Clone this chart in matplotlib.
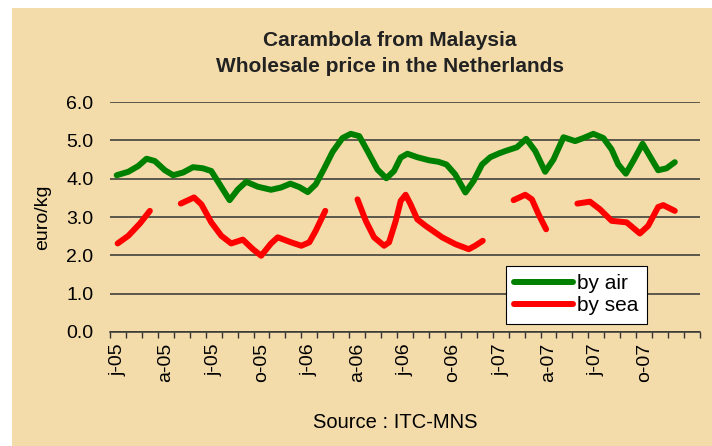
import matplotlib
matplotlib.use('Agg')
import matplotlib.pyplot as plt
import numpy as np
from matplotlib.patches import Rectangle

plt.rcParams['font.family'] = ['Liberation Sans', 'DejaVu Sans']

BG = '#F3DCAA'

# months since Jan 2005 and prices in euro/kg
air_month = [0.42, 1.15, 1.77, 2.29, 2.81, 3.44, 3.96, 4.58, 5.21, 5.83, 6.35, 6.88,
             7.5, 8.02, 8.54, 9.27, 10.1, 10.73, 11.31, 11.875, 12.4, 12.9, 13.44,
             13.96, 14.58, 15.1, 15.63, 16.15, 16.77, 17.33, 17.81, 18.23, 18.65,
             19.27, 20.0, 20.6, 21.1, 21.65, 22.29, 22.8, 23.33, 23.85, 24.4, 24.79,
             25.52, 26.1, 26.67, 27.29, 27.81, 28.44, 29.17, 29.69, 30.31, 30.94,
             31.46, 31.875, 32.35, 32.81, 33.4, 33.85, 34.375, 34.9, 35.42]
air_price = [4.09, 4.18, 4.33, 4.52, 4.46, 4.22, 4.09, 4.16, 4.30, 4.27, 4.20, 3.85,
             3.44, 3.72, 3.92, 3.79, 3.71, 3.77, 3.87, 3.78, 3.65, 3.85, 4.27,
             4.70, 5.06, 5.17, 5.11, 4.72, 4.24, 4.01, 4.20, 4.55, 4.65,
             4.56, 4.48, 4.44, 4.37, 4.11, 3.64, 3.94, 4.37, 4.56, 4.66, 4.72,
             4.82, 5.04, 4.72, 4.18, 4.50, 5.08, 4.98, 5.06, 5.17, 5.06,
             4.76, 4.37, 4.13, 4.46, 4.91, 4.59, 4.22, 4.27, 4.43]

# nan marks weeks without a sea price
sea_month = [0.48, 1.15, 1.875, 2.5, 3.5,
             4.44, 5.27, 5.73, 6.35, 6.98, 7.6, 8.33, 8.96, 9.48, 10.1, 10.52,
             11.35, 12.0, 12.5, 12.9, 13.5, 14.5,
             15.52, 16.04, 16.56, 17.19, 17.5, 17.92, 18.23, 18.54, 18.85, 19.27,
             19.79, 20.83, 21.67, 22.5, 22.9, 23.375, 24.3,
             25.31, 26.04, 26.46, 26.875, 27.35, 28.3,
             29.31, 30.1, 30.73, 31.46, 32.4, 33.23, 33.75, 34.375, 34.69, 35.42]
sea_price = [2.31, 2.51, 2.83, 3.16, np.nan,
             3.35, 3.51, 3.33, 2.86, 2.51, 2.31, 2.41, 2.16, 1.99, 2.31, 2.47,
             2.34, 2.25, 2.34, 2.64, 3.16, np.nan,
             3.46, 2.90, 2.47, 2.25, 2.34, 2.90, 3.42, 3.58, 3.33, 2.94,
             2.77, 2.47, 2.29, 2.16, 2.25, 2.38, np.nan,
             3.44, 3.58, 3.46, 3.07, 2.68, np.nan,
             3.35, 3.40, 3.20, 2.90, 2.86, 2.57, 2.77, 3.26, 3.31, 3.16]

quarter_labels = ['j-05', 'a-05', 'j-05', 'o-05', 'j-06', 'a-06',
                  'j-06', 'o-06', 'j-07', 'a-07', 'j-07', 'o-07']

fig = plt.figure(figsize=(7.12, 4.46), dpi=100, facecolor='white')
fig.patches.append(Rectangle((12 / 712, 0), 1, 1 - 8 / 446, transform=fig.transFigure,
                             facecolor=BG, edgecolor='none', zorder=-10))

ax = fig.add_axes([110 / 712, 1 - 332 / 446, 590 / 712, 230 / 446])
ax.set_facecolor(BG)

ax.plot(air_month, air_price, color='#008000', lw=4.3, solid_capstyle='round',
        solid_joinstyle='round', label='by air', zorder=3)
ax.plot(sea_month, sea_price, color='#FF0000', lw=4.3, solid_capstyle='round',
        solid_joinstyle='round', label='by sea', zorder=3)

ax.set_xlim(0, 37)
ax.set_ylim(0, 6)
ax.set_yticks(np.arange(0, 6.1, 1.0))
ax.set_yticklabels(['%.1f' % v for v in np.arange(0, 6.1, 1.0)], fontsize=14)
ax.tick_params(axis='y', length=0, pad=12)
ax.yaxis.grid(True, color='#333333', lw=1.1)
ax.set_axisbelow(True)

ax.set_xticks(np.arange(0, 38, 1))
ax.set_xticklabels([])
ax.tick_params(axis='x', which='major', direction='out', length=4, width=1, color='#333333')
ax.set_xticks(0.5 + 3 * np.arange(len(quarter_labels)), minor=True)
ax.set_xticklabels(quarter_labels, minor=True, rotation=90, fontsize=14)
ax.tick_params(axis='x', which='minor', length=0, pad=8)

for s in ['top', 'right', 'left']:
    ax.spines[s].set_visible(False)
ax.spines['bottom'].set_color('#333333')
ax.spines['bottom'].set_linewidth(1.1)

ax.set_ylabel('euro/kg', fontsize=14)
ax.yaxis.set_label_coords(-0.1, 0.5)

fig.text(390 / 712, 1 - 41 / 446, 'Carambola from Malaysia', ha='center', va='center',
         fontsize=15, fontweight='bold', color='#222222')
fig.text(390 / 712, 1 - 66 / 446, 'Wholesale price in the Netherlands', ha='center',
         va='center', fontsize=15, fontweight='bold', color='#222222')
fig.text(395 / 712, 1 - 423 / 446, 'Source : ITC-MNS', ha='center', va='center',
         fontsize=14.5)

leg = ax.legend(loc='upper left', bbox_to_anchor=(506 / 712, 1 - 266 / 446),
                bbox_transform=fig.transFigure, fontsize=15, frameon=True, fancybox=False,
                handlelength=2.8, handletextpad=0.2, labelspacing=0.15, borderpad=0.4,
                borderaxespad=0)
leg.get_frame().set_edgecolor('black')
leg.get_frame().set_linewidth(0.8)
leg.get_frame().set_facecolor('white')
leg.get_frame().set_alpha(1)

plt.savefig('out.png', dpi=100, facecolor=fig.get_facecolor())
